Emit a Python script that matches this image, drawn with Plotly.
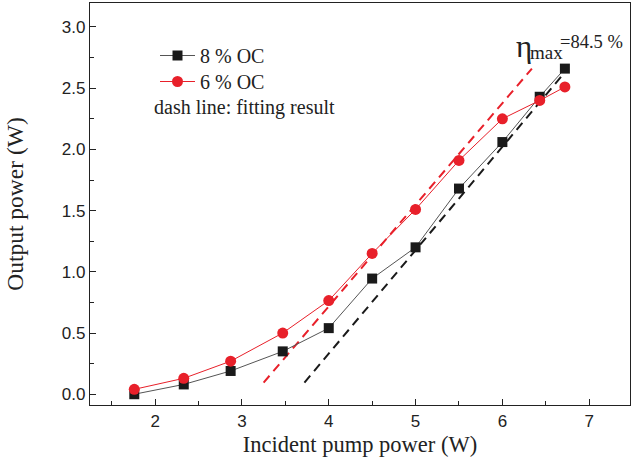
import plotly.graph_objects as go

# Data
pump_power = [1.76, 2.33, 2.87, 3.47, 4.0, 4.5, 5.0, 5.5, 6.0, 6.43, 6.72]
out_8oc = [0.0, 0.08, 0.19, 0.35, 0.54, 0.945, 1.20, 1.68, 2.06, 2.43, 2.66]
out_6oc = [0.04, 0.13, 0.27, 0.50, 0.765, 1.15, 1.51, 1.91, 2.25, 2.40, 2.51]

fit_8oc_x = [3.72, 6.72]
fit_8oc_y = [0.095, 2.63]
fit_6oc_x = [3.25, 6.34]
fit_6oc_y = [0.095, 2.66]

x_ticks = [2, 3, 4, 5, 6, 7]
y_ticks = [0.0, 0.5, 1.0, 1.5, 2.0, 2.5, 3.0]

RED = "#e8202a"
BLACK = "#1a1a1a"
SERIF = "Liberation Serif, Times New Roman, serif"
SANS = "Liberation Sans, Arial, sans-serif"

# plot area in pixels: x 90..630, y 3..405
def px(x):
    return (x - 90) / 540

def py(y):
    return (405 - y) / 402

fig = go.Figure()

fig.add_trace(go.Scatter(x=fit_8oc_x, y=fit_8oc_y, mode="lines", showlegend=False,
                         line=dict(color=BLACK, width=2, dash="9px,6px")))
fig.add_trace(go.Scatter(x=fit_6oc_x, y=fit_6oc_y, mode="lines", showlegend=False,
                         line=dict(color=RED, width=2, dash="9px,6px")))

fig.add_trace(go.Scatter(x=pump_power, y=out_8oc, mode="lines+markers", name="8 % OC",
                         legend="legend",
                         line=dict(color="#555555", width=1),
                         marker=dict(symbol="square", size=10, color=BLACK)))
fig.add_trace(go.Scatter(x=pump_power, y=out_6oc, mode="lines+markers", name="6 % OC",
                         legend="legend2",
                         line=dict(color=RED, width=1),
                         marker=dict(symbol="circle", size=11, color=RED)))

axis_common = dict(showline=True, linecolor="#222222", linewidth=1.3, mirror=True,
                   ticks="inside", ticklen=6, tickwidth=1.2, tickcolor="#222222",
                   showgrid=False, zeroline=False, automargin=False,
                   tickfont=dict(family=SANS, size=17, color="#222222"))

fig.update_xaxes(range=[1.25, 7.47], tickvals=x_ticks,
                 ticktext=[str(v) for v in x_ticks],
                 minor=dict(ticks="inside", ticklen=4, dtick=0.5, tickcolor="#222222", tickwidth=1.2),
                 title=dict(text="Incident pump power (W)", font=dict(family=SERIF, size=22.5, color="#222222"),
                            standoff=6),
                 **axis_common)
fig.update_yaxes(range=[-0.088, 3.196], tickvals=y_ticks,
                 ticktext=[f"{v:.1f}" for v in y_ticks],
                 minor=dict(ticks="inside", ticklen=4, dtick=0.25, tickcolor="#222222", tickwidth=1.2),
                 title=dict(text="Output power (W)", font=dict(family=SERIF, size=23.5, color="#222222"),
                            standoff=31),
                 **axis_common)

fig.add_annotation(text="dash line: fitting result", xref="paper", yref="paper",
                   x=px(152), y=py(107), xanchor="left", yanchor="middle",
                   showarrow=False, font=dict(family=SERIF, size=20, color="#222222"))

fig.add_annotation(text="η", xref="paper", yref="paper",
                   x=px(514), y=py(47), xanchor="left", yanchor="middle",
                   showarrow=False, font=dict(family=SERIF, size=31, color="#222222"))
fig.add_annotation(text="max", xref="paper", yref="paper",
                   x=px(528), y=py(53), xanchor="left", yanchor="middle",
                   showarrow=False, font=dict(family=SERIF, size=19, color="#222222"))
fig.add_annotation(text="=84.5 %", xref="paper", yref="paper",
                   x=px(558), y=py(42), xanchor="left", yanchor="middle",
                   showarrow=False, font=dict(family=SERIF, size=18.5, color="#222222"))

legend_common = dict(xanchor="left", yanchor="top", bgcolor="rgba(0,0,0,0)",
                     font=dict(family=SERIF, size=20, color="#222222"), itemwidth=35)

fig.update_layout(
    width=631, height=464,
    margin=dict(l=90, r=1, t=3, b=59, autoexpand=False),
    plot_bgcolor="white", paper_bgcolor="white",
    legend=dict(x=px(155), y=py(36), **legend_common),
    legend2=dict(x=px(155), y=py(62), **legend_common),
)

fig.write_html("out.html", config={"displayModeBar": False},
               post_script="document.body.style.margin='0';document.body.style.overflow='hidden';")
